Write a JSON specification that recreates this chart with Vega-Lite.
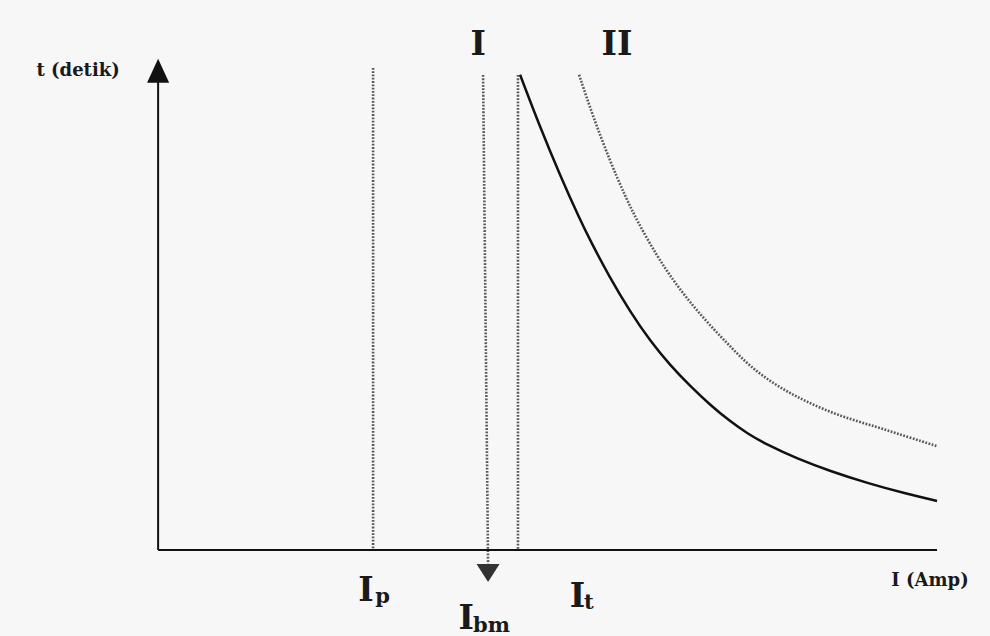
{
  "$schema": "https://vega.github.io/schema/vega-lite/v6.json",
  "width": 990,
  "height": 636,
  "padding": 0,
  "autosize": {"type": "fit", "contains": "padding"},
  "background": "#f7f7f7",
  "config": {"view": {"stroke": null}},
  "datasets": {
    "axes": [
      {"name": "x-axis", "x": 0, "y": 0, "x2": 100, "y2": 0},
      {"name": "y-axis", "x": 0, "y": 0, "x2": 0, "y2": 99}
    ],
    "arrowUp": [{"name": "t", "x": 0, "y": 100.9}],
    "arrowDown": [{"name": "Ibm", "x": 42.36, "y": -4.84}],
    "verticals": [
      {"name": "Ip", "x": 27.6, "y": 101.5, "x2": 27.6, "y2": 0},
      {"name": "Ibm", "x": 41.72, "y": 100, "x2": 42.36, "y2": -2.9},
      {"name": "It", "x": 46.2, "y": 100, "x2": 46.2, "y2": 0}
    ],
    "curveI": [
      {"x": 46.47, "y": 100.06},
      {"x": 49.04, "y": 89.01},
      {"x": 51.6, "y": 78.9},
      {"x": 54.17, "y": 69.52},
      {"x": 55.46, "y": 65.2},
      {"x": 58.02, "y": 57.26},
      {"x": 60.59, "y": 50.19},
      {"x": 63.16, "y": 44.02},
      {"x": 65.73, "y": 38.88},
      {"x": 68.29, "y": 34.53},
      {"x": 70.86, "y": 30.55},
      {"x": 73.43, "y": 27.08},
      {"x": 75.61, "y": 24.57},
      {"x": 78.18, "y": 22.13},
      {"x": 82.03, "y": 19.24},
      {"x": 86.26, "y": 16.62},
      {"x": 91.01, "y": 14.1},
      {"x": 96.15, "y": 11.79},
      {"x": 100.0, "y": 10.33}
    ],
    "curveII": [
      {"x": 54.04, "y": 100.06},
      {"x": 55.84, "y": 91.24},
      {"x": 58.02, "y": 81.87},
      {"x": 59.95, "y": 74.54},
      {"x": 61.49, "y": 69.3},
      {"x": 64.06, "y": 61.85},
      {"x": 66.11, "y": 56.83},
      {"x": 68.29, "y": 52.14},
      {"x": 70.86, "y": 47.26},
      {"x": 73.43, "y": 42.9},
      {"x": 75.99, "y": 38.6},
      {"x": 79.46, "y": 34.48},
      {"x": 83.31, "y": 31.11},
      {"x": 87.55, "y": 28.17},
      {"x": 92.3, "y": 25.9},
      {"x": 96.15, "y": 23.85},
      {"x": 100.0, "y": 21.86}
    ],
    "labelsMid": [
      {"label": "t (detik)", "x": -10.27, "y": 100.9},
      {"label": "I (Amp)", "x": 99.1, "y": -6.52}
    ],
    "labelsBig": [
      {"label": "I", "x": 41.08, "y": 106.37},
      {"label": "II", "x": 58.92, "y": 106.37}
    ],
    "labelsI": [
      {"label": "I", "x": 26.7, "y": -10.72},
      {"label": "I", "x": 39.54, "y": -16.6},
      {"label": "I", "x": 53.85, "y": -11.98}
    ],
    "labelsSub": [
      {"label": "p", "x": 27.86, "y": -11.14},
      {"label": "bm", "x": 40.44, "y": -17.2},
      {"label": "t", "x": 54.69, "y": -12.4}
    ]
  },
  "encoding": {
    "x": {"field": "x", "type": "quantitative", "scale": {"domain": [-20.3, 106.8], "nice": false, "zero": false}, "axis": null},
    "y": {"field": "y", "type": "quantitative", "scale": {"domain": [-17.9, 115.8], "nice": false, "zero": false}, "axis": null}
  },
  "layer": [
    {
      "data": {"name": "verticals"},
      "mark": {"type": "rule", "color": "#5a5a5a", "strokeWidth": 2.6, "strokeDash": [1.8, 1.5]},
      "encoding": {"x2": {"field": "x2"}, "y2": {"field": "y2"}}
    },
    {
      "data": {"name": "axes"},
      "mark": {"type": "rule", "color": "#111111", "strokeWidth": 2},
      "encoding": {"x2": {"field": "x2"}, "y2": {"field": "y2"}}
    },
    {
      "data": {"name": "arrowUp"},
      "mark": {"type": "point", "shape": "M0,-1L0.92,1L-0.92,1Z", "size": 576, "filled": true, "color": "#111111", "opacity": 1}
    },
    {
      "data": {"name": "arrowDown"},
      "mark": {"type": "point", "shape": "M-0.96,-0.75L0.96,-0.75L0,0.75Z", "size": 576, "filled": true, "color": "#333333", "opacity": 1}
    },
    {
      "data": {"name": "curveI"},
      "mark": {"type": "line", "color": "#111111", "strokeWidth": 2.5, "interpolate": "basis"},
      "encoding": {"order": {"field": "x", "type": "quantitative"}}
    },
    {
      "data": {"name": "curveII"},
      "mark": {"type": "line", "color": "#5a5a5a", "strokeWidth": 2.6, "strokeDash": [1.8, 1.5], "interpolate": "basis"},
      "encoding": {"order": {"field": "x", "type": "quantitative"}}
    },
    {
      "data": {"name": "labelsMid"},
      "mark": {"type": "text", "font": "DejaVu Serif", "fontWeight": "bold", "fontSize": 18, "color": "#1a1a1a", "align": "center", "baseline": "middle"},
      "encoding": {"text": {"field": "label"}}
    },
    {
      "data": {"name": "labelsBig"},
      "mark": {"type": "text", "font": "DejaVu Serif", "fontWeight": "bold", "fontSize": 33, "color": "#1a1a1a", "align": "center", "baseline": "middle"},
      "encoding": {"text": {"field": "label"}}
    },
    {
      "data": {"name": "labelsI"},
      "mark": {"type": "text", "font": "DejaVu Serif", "fontWeight": "bold", "fontSize": 33, "color": "#1a1a1a", "align": "center", "baseline": "alphabetic"},
      "encoding": {"text": {"field": "label"}}
    },
    {
      "data": {"name": "labelsSub"},
      "mark": {"type": "text", "font": "DejaVu Serif", "fontWeight": "bold", "fontSize": 21, "color": "#1a1a1a", "align": "left", "baseline": "alphabetic"},
      "encoding": {"text": {"field": "label"}}
    }
  ]
}
